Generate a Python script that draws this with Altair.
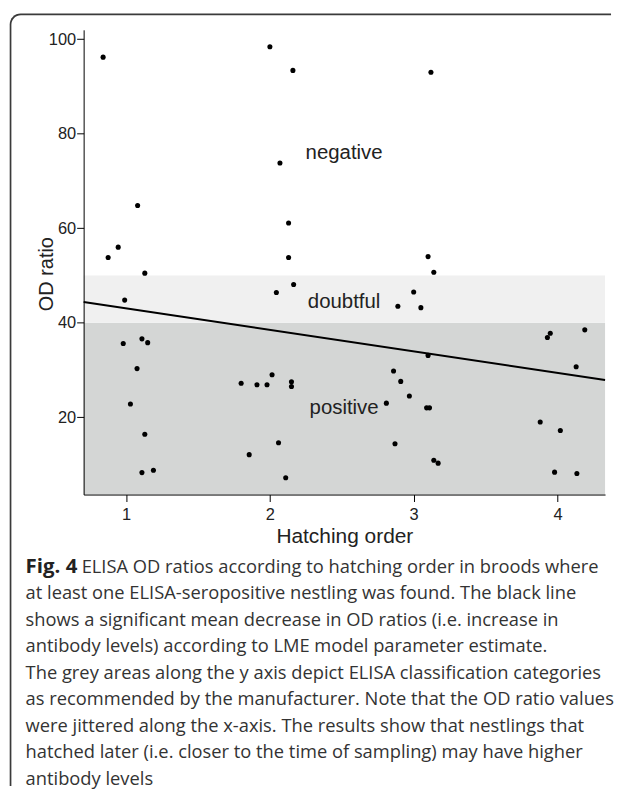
import altair as alt
import pandas as pd

# ---- data ----
hatch_order = [1]*14 + [2]*16 + [3]*16 + [4]*8
x_jittered = [0.84, 1.08, 0.945, 0.875, 1.13, 0.99, 0.98, 1.11, 1.15, 1.076, 1.03, 1.13, 1.11, 1.19,
              2.00, 2.16, 2.07, 2.13, 2.13, 2.045, 2.165, 1.80, 1.91, 1.98, 2.015, 2.15, 2.15, 2.06, 1.856, 2.11,
              3.12, 3.10, 3.14, 3.00, 2.89, 3.05, 3.10, 2.86, 2.91, 2.97, 2.81, 3.09, 3.11, 2.87, 3.14, 3.17,
              3.95, 3.93, 4.19, 4.13, 3.88, 4.02, 3.98, 4.135]
od_ratio = [96.2, 64.8, 56.0, 53.8, 50.5, 44.8, 35.6, 36.6, 35.8, 30.3, 22.8, 16.4, 8.3, 8.8,
            98.4, 93.4, 73.8, 61.1, 53.8, 46.4, 48.1, 27.2, 26.9, 26.9, 29.0, 27.5, 26.5, 14.6, 12.1, 7.2,
            93.0, 54.0, 50.7, 46.5, 43.5, 43.2, 33.1, 29.8, 27.6, 24.5, 23.0, 22.0, 22.0, 14.4, 10.9, 10.3,
            37.8, 36.9, 38.5, 30.7, 19.0, 17.2, 8.4, 8.1]

x_min, x_max = 0.7045, 4.331
y_min, y_max = 3.66, 101.98

line_x = [x_min, x_max]
line_y = [44.4, 27.9]

band_names = ["positive", "doubtful"]
band_low = [y_min, 40]
band_high = [40, 50]
band_colors = ["#d4d6d5", "#f0f0f0"]

label_text = ["negative", "doubtful", "positive"]
label_x = [2.516, 2.516, 2.516]
label_y = [74.6, 43.2, 20.7]

x_ticks = [1, 2, 3, 4]
y_ticks = [20, 40, 60, 80, 100]

caption_bold = "Fig. 4"
caption_first = "ELISA OD ratios according to hatching order in broods where"
caption_rest = [
    "at least one ELISA-seropositive nestling was found. The black line",
    "shows a significant mean decrease in OD ratios (i.e. increase in",
    "antibody levels) according to LME model parameter estimate.",
    "The grey areas along the y axis depict ELISA classification categories",
    "as recommended by the manufacturer. Note that the OD ratio values",
    "were jittered along the x-axis. The results show that nestlings that",
    "hatched later (i.e. closer to the time of sampling) may have higher",
    "antibody levels",
]

# ---- tables ----
pts = pd.DataFrame({"order": hatch_order, "x": x_jittered, "od": od_ratio})
lin = pd.DataFrame({"x": line_x, "od": line_y})
bands = pd.DataFrame({"cat": band_names, "lo": band_low, "hi": band_high,
                      "x0": [x_min]*2, "x1": [x_max]*2})
labs = pd.DataFrame({"t": label_text, "x": label_x, "od": label_y})
cap1 = pd.DataFrame({"t": [caption_bold], "row": [0]})
cap2 = pd.DataFrame({"t": [caption_first], "row": [0]})
cap3 = pd.DataFrame({"t": caption_rest, "row": list(range(1, 9))})
one = pd.DataFrame({"a": [0]})

W, H = 524, 467
AX_FONT = "Liberation Sans"

xs = alt.Scale(domain=[x_min, x_max], nice=False, zero=False)
ys = alt.Scale(domain=[y_min, y_max], nice=False, zero=False)
xaxis = alt.Axis(values=x_ticks, title="Hatching order", format="d", labelPadding=5,
                 titleY=48, titleBaseline="alphabetic", titleFontSize=21, zindex=2)
yaxis = alt.Axis(values=y_ticks, title="OD ratio", format="d", labelPadding=1,
                 titleX=-31.6, titleY=245, titleAngle=270, titleAlign="center",
                 titleBaseline="alphabetic", zindex=2)

frame_outer = alt.Chart(one).mark_rect(color="#3a3a3a", cornerRadiusTopLeft=11).encode(
    x=alt.value(-74.3), x2=alt.value(530), y=alt.value(-16.3), y2=alt.value(760))
frame_inner = alt.Chart(one).mark_rect(color="white", cornerRadiusTopLeft=9.5).encode(
    x=alt.value(-72.6), x2=alt.value(536), y=alt.value(-14.6), y2=alt.value(766))

band = alt.Chart(bands).mark_rect().encode(
    x=alt.X("x0:Q", scale=xs, axis=xaxis), x2="x1:Q",
    y=alt.Y("lo:Q", scale=ys, axis=yaxis), y2="hi:Q",
    color=alt.Color("cat:N", scale=alt.Scale(domain=band_names, range=band_colors), legend=None))

reg = alt.Chart(lin).mark_line(color="black", strokeWidth=2).encode(
    x=alt.X("x:Q", scale=xs, axis=xaxis), y=alt.Y("od:Q", scale=ys, axis=yaxis))

points = alt.Chart(pts).mark_circle(color="black", size=26, opacity=1).encode(
    x=alt.X("x:Q", scale=xs, axis=xaxis), y=alt.Y("od:Q", scale=ys, axis=yaxis))

labels = alt.Chart(labs).mark_text(font=AX_FONT, fontSize=20.5, color="#222222",
                                   align="center", baseline="alphabetic").encode(
    x=alt.X("x:Q", scale=xs, axis=xaxis), y=alt.Y("od:Q", scale=ys, axis=yaxis), text="t:N")

plot = alt.layer(frame_outer, frame_inner, band, reg, points, labels)

cap_scale = alt.Scale(domain=[0, 8], range=[545.7, 758.5])
CAP_FONT = "Open Sans"
CAP_SIZE = 18.4
c1 = alt.Chart(cap1).mark_text(font=CAP_FONT, fontSize=20.5, fontWeight="bold", color="#222222",
                               align="left", baseline="alphabetic").encode(
    x=alt.value(-58.3), y=alt.Y("row:Q", scale=cap_scale, axis=None), text="t:N")
c2 = alt.Chart(cap2).mark_text(font=CAP_FONT, fontSize=CAP_SIZE, color="#333333",
                               align="left", baseline="alphabetic").encode(
    x=alt.value(-2), y=alt.Y("row:Q", scale=cap_scale, axis=None), text="t:N")
c3 = alt.Chart(cap3).mark_text(font=CAP_FONT, fontSize=CAP_SIZE, color="#333333",
                               align="left", baseline="alphabetic").encode(
    x=alt.value(-58.3), y=alt.Y("row:Q", scale=cap_scale, axis=None), text="t:N")
caption = alt.layer(c1, c2, c3)

chart = alt.layer(plot, caption).resolve_scale(y="independent").properties(
    width=W, height=H, padding={"left": 1, "top": 3, "right": 0, "bottom": 0},
    background="white"
).configure_view(stroke="black", strokeWidth=1).configure_axis(
    grid=False, domainColor="black", domainWidth=1, tickColor="black", tickSize=7,
    labelFont=AX_FONT, labelFontSize=16.5, labelColor="#222222",
    titleFont=AX_FONT, titleFontSize=20, titleFontWeight="normal", titleColor="#222222")

chart.save("out.html", embed_options={"renderer": "svg", "actions": False})
